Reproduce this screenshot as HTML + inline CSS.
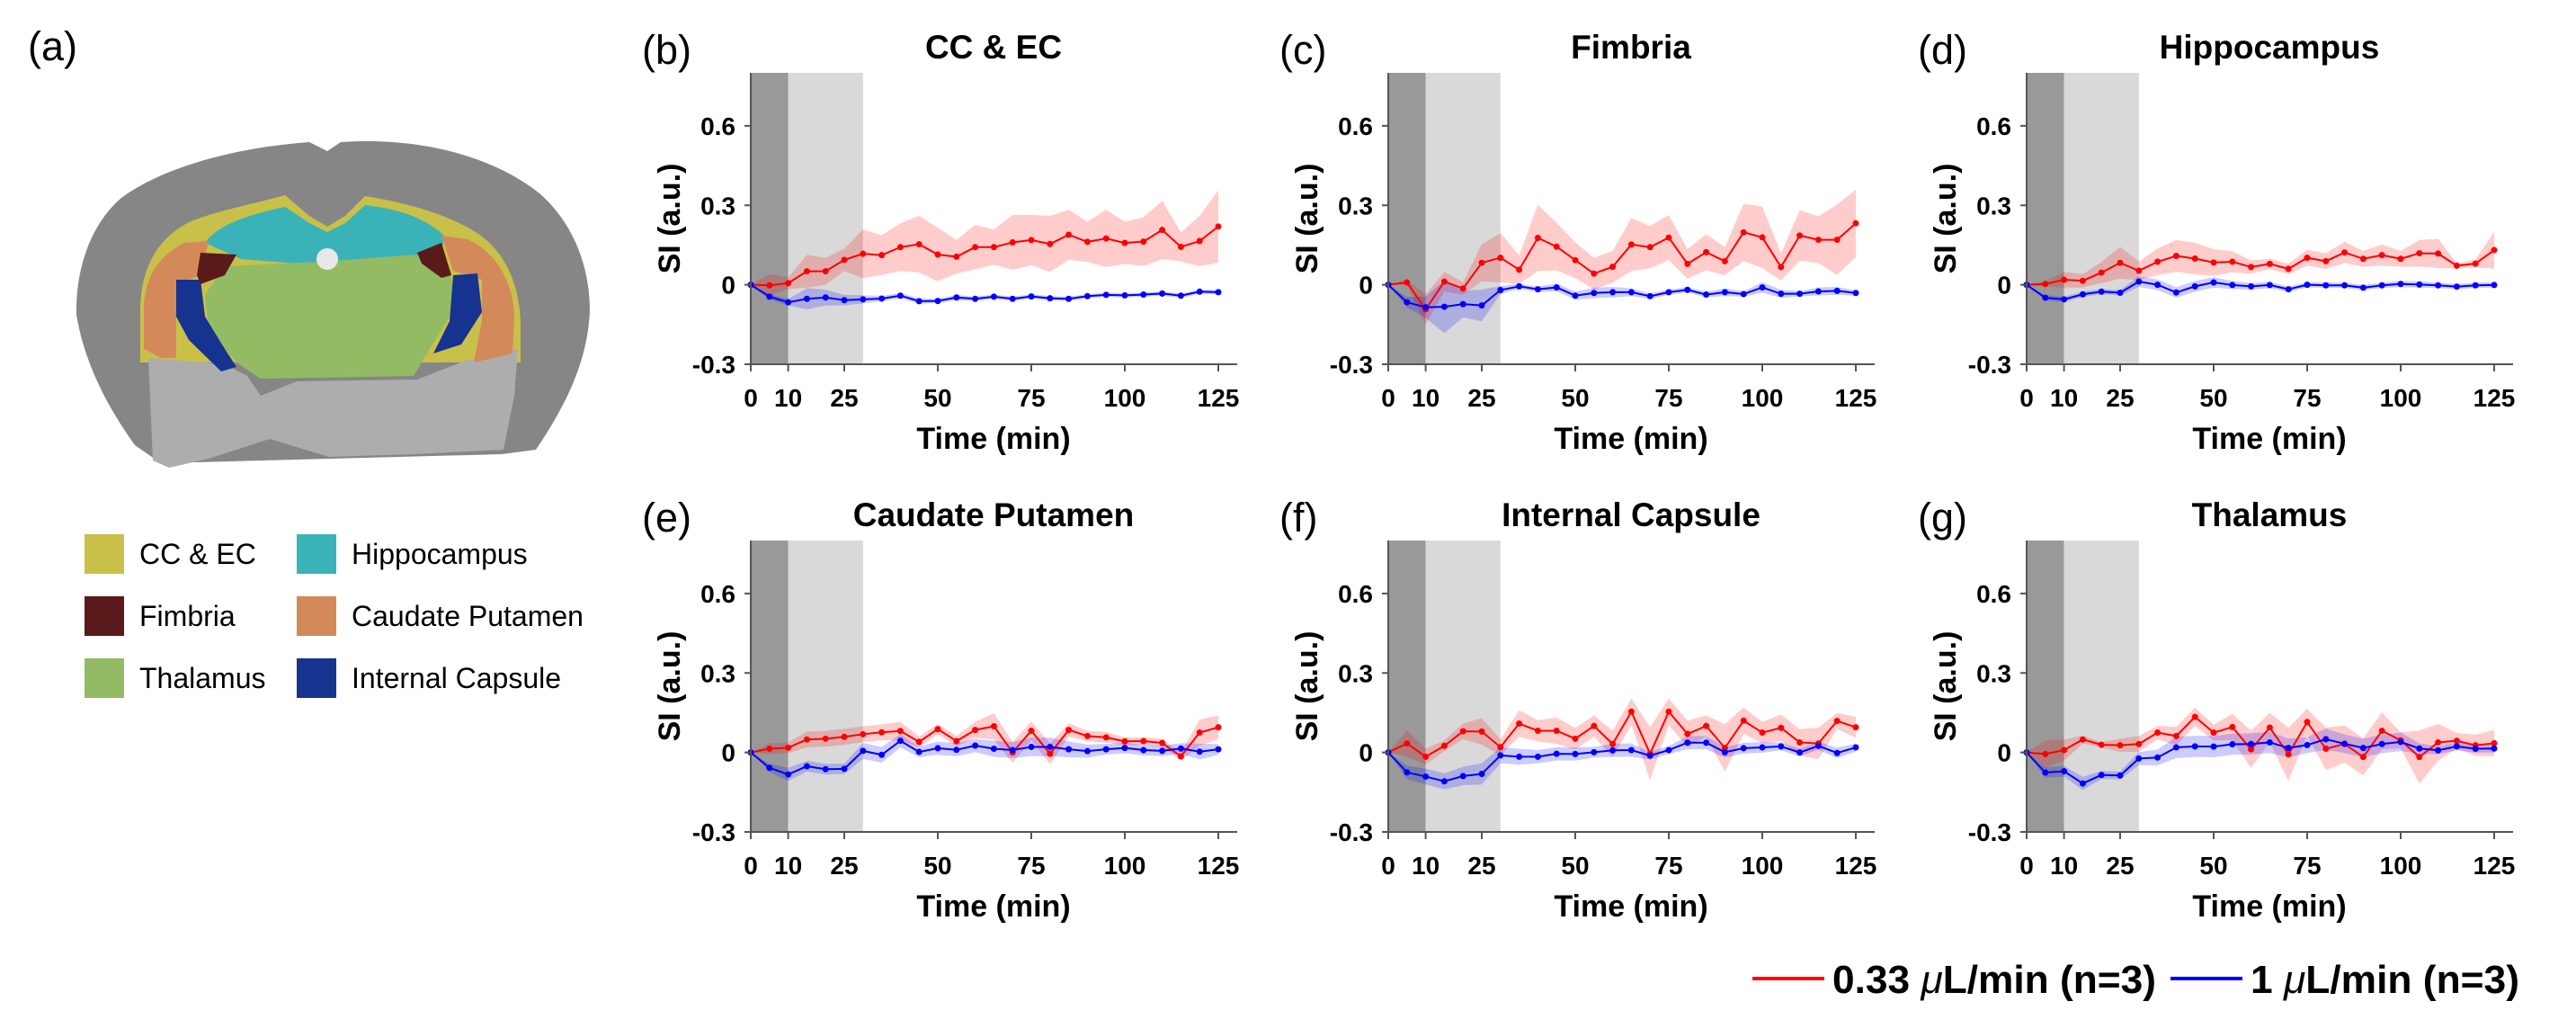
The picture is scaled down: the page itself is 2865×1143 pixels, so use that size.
<!DOCTYPE html>
<html><head><meta charset="utf-8"><style>
html,body{margin:0;padding:0;background:#fff;}
svg{display:block;font-family:"Liberation Sans",Arial,sans-serif;}
</style></head><body>
<svg id="fig" width="2865" height="1143" viewBox="0 0 2865 1143" xmlns="http://www.w3.org/2000/svg">
<g>
<text x="31" y="67" font-size="45">(a)</text>
<path fill="#868686" d="M85,350 C84,300 100,250 135,220 C175,190 250,165 344,158 L364,168 L379,158 C470,152 550,175 600,215 C640,250 656,300 656,345 C654,400 630,450 596,500 L558,505 L179,515 L150,495 C125,460 95,410 85,350 Z"/>
<path fill="#c9c04a" d="M156,345 C156,300 175,262 215,245 C250,232 290,225 317,217 L344,240 L364,252 L384,240 L406,218 C450,225 500,238 535,262 C565,285 578,320 579,360 L579,403 L156,403 Z"/>
<polygon fill="#adadad" points="165,398 250,405 275,418 290,440 330,424 464,422 520,400 576,388 572,440 560,500 460,505 366,508 300,488 232,510 188,520 170,512"/>
<path fill="#3ab3b8" d="M228,270 C240,252 270,240 317,230 L344,248 L364,258 L384,248 L406,228 C440,232 470,240 494,262 L491,286 L464,296 L366,296 L268,288 Z"/>
<path fill="#d4895a" d="M160,345 C160,310 175,285 205,270 L232,268 L223,306 L196,316 L196,398 L179,398 L160,388 Z"/>
<path fill="#d4895a" d="M491,262 L520,266 C550,280 570,310 572,350 L570,393 L527,403 L536,357 L536,311 L504,301 Z"/>
<polygon fill="#93bb63" points="228,327 250,296 357,291 491,281 504,316 500,352 478,388 460,418 290,421 263,403 232,367"/>
<polygon fill="#16338f" points="196,311 223,311 228,352 250,388 263,408 246,413 210,378 196,352"/>
<polygon fill="#16338f" points="504,306 531,304 536,347 513,383 482,393 500,357"/>
<polygon fill="#5a1a1a" points="223,281 263,283 250,306 223,316 219,306"/>
<polygon fill="#5a1a1a" points="464,281 491,270 502,306 491,309 469,293"/>
<circle cx="364" cy="288" r="12" fill="#e8e8e8"/>
</g>
<g font-size="32">
<rect x="94" y="594" width="44" height="44" fill="#c9c04a"/>
<text x="155" y="627">CC &amp; EC</text>
<rect x="94" y="663" width="44" height="44" fill="#5a1a1a"/>
<text x="155" y="696">Fimbria</text>
<rect x="94" y="732" width="44" height="44" fill="#93bb63"/>
<text x="155" y="765">Thalamus</text>
<rect x="330" y="594" width="44" height="44" fill="#3ab3b8"/>
<text x="391" y="627">Hippocampus</text>
<rect x="330" y="663" width="44" height="44" fill="#d4895a"/>
<text x="391" y="696">Caudate Putamen</text>
<rect x="330" y="732" width="44" height="44" fill="#16338f"/>
<text x="391" y="765">Internal Capsule</text>
</g>
<g font-size="44" font-weight="bold">
<line x1="1949" y1="1088" x2="2029" y2="1088" stroke="#f00" stroke-width="4"/>
<text x="2038" y="1104" textLength="360" lengthAdjust="spacingAndGlyphs">0.33 <tspan font-style="italic" font-weight="normal">μ</tspan>L/min (n=3)</text>
<line x1="2414" y1="1088" x2="2494" y2="1088" stroke="#00f" stroke-width="4"/>
<text x="2503" y="1104" textLength="299" lengthAdjust="spacingAndGlyphs">1 <tspan font-style="italic" font-weight="normal">μ</tspan>L/min (n=3)</text>
</g>
</svg>
<script>
const times = [0,5,10,15,20,25,30,35,40,45,50,55,60,65,70,75,80,85,90,95,100,105,110,115,120,125];
const xTicks = [0,10,25,50,75,100,125];
const yTicks = [-0.3,0,0.3,0.6];
const yTickLabels = ["-0.3","0","0.3","0.6"];
const panelTitles = ["CC & EC","Fimbria","Hippocampus","Caudate Putamen","Internal Capsule","Thalamus"];
const panelLetters = ["(b)","(c)","(d)","(e)","(f)","(g)"];

const ccRed = [0,-.002,.006,.051,.051,.094,.117,.112,.142,.153,.114,.106,.142,.142,.160,.169,.154,.189,.162,.175,.158,.163,.207,.143,.165,.220];
const ccRedErr = [0,.042,.022,.062,.051,.042,.092,.075,.09,.107,.101,.064,.084,.067,.104,.095,.106,.094,.076,.108,.08,.092,.11,.055,.095,.137];
const ccBlue = [0,-.045,-.066,-.053,-.048,-.058,-.055,-.052,-.041,-.062,-.061,-.048,-.053,-.045,-.053,-.044,-.051,-.053,-.043,-.038,-.040,-.037,-.033,-.041,-.026,-.028];
const ccBlueErr = [0,.01,.012,.04,.03,.02,.015,.01,.01,.01,.008,.01,.008,.008,.008,.008,.008,.008,.008,.008,.008,.008,.008,.008,.008,.008];

const fiRed = [0,.009,-.093,.012,-.014,.083,.102,.057,.177,.144,.093,.042,.068,.152,.142,.178,.079,.123,.089,.198,.179,.067,.186,.170,.170,.232];
const fiRedErr = [0,.009,.057,.037,.024,.07,.093,.054,.125,.09,.068,.06,.06,.10,.08,.085,.056,.068,.053,.108,.116,.051,.096,.088,.133,.127];
const fiBlue = [0,-.066,-.085,-.083,-.073,-.078,-.020,-.006,-.017,-.010,-.041,-.031,-.028,-.028,-.043,-.028,-.019,-.037,-.028,-.035,-.010,-.034,-.034,-.025,-.023,-.031];
const fiBlueErr = [0,.02,.04,.1,.05,.06,.015,.01,.01,.015,.015,.02,.02,.015,.01,.01,.01,.01,.015,.01,.02,.015,.01,.015,.015,.01];

const hiRed = [0,.003,.019,.015,.046,.083,.053,.087,.109,.099,.084,.087,.067,.079,.060,.102,.089,.122,.098,.112,.098,.119,.118,.072,.080,.131];
const hiRedErr = [0,.01,.03,.025,.04,.06,.035,.05,.06,.06,.05,.04,.025,.02,.02,.03,.03,.04,.03,.04,.03,.05,.055,.01,.015,.07];
const hiBlue = [0,-.049,-.055,-.036,-.026,-.03,.012,0,-.029,-.006,.009,-.001,-.006,-.001,-.017,0,-.002,-.002,-.011,-.002,.003,.001,-.002,-.007,-.002,-.001];
const hiBlueErr = [0,.01,.01,.01,.01,.01,.02,.02,.02,.02,.02,.015,.012,.012,.01,.01,.01,.01,.01,.01,.012,.012,.01,.01,.01,.01];

const cpRed = [0,.014,.018,.049,.052,.059,.069,.076,.081,.040,.088,.043,.085,.099,0,.082,-.005,.085,.062,.057,.042,.043,.036,-.015,.075,.095];
const cpRedErr = [0,.02,.02,.03,.03,.03,.03,.03,.035,.02,.02,.02,.03,.05,.04,.035,.04,.025,.02,.02,.015,.015,.015,.015,.05,.045];
const cpBlue = [0,-.058,-.083,-.052,-.063,-.062,.006,-.009,.044,.002,.016,.010,.026,.014,.009,.021,.021,.012,.005,.012,.017,.009,.006,.015,.003,.012];
const cpBlueErr = [0,.015,.025,.02,.02,.02,.03,.03,.025,.02,.025,.025,.025,.03,.03,.035,.035,.03,.025,.02,.02,.02,.02,.02,.03,.02];

const icRed = [0,.034,-.016,.025,.080,.079,.020,.109,.082,.082,.052,.100,.032,.154,-.005,.154,.070,.100,.017,.120,.075,.093,.038,.034,.119,.095];
const icRedErr = [0,.05,.03,.02,.03,.05,.03,.05,.04,.05,.04,.04,.05,.05,.1,.05,.05,.04,.09,.05,.04,.05,.05,.06,.03,.04];
const icBlue = [0,-.075,-.091,-.109,-.089,-.081,-.011,-.016,-.016,-.005,-.006,.001,.008,.009,-.012,.009,.037,.037,.001,.016,.019,.023,0,.025,-.002,.019];
const icBlueErr = [0,.025,.03,.03,.035,.04,.03,.03,.025,.025,.025,.02,.025,.025,.015,.015,.025,.025,.02,.02,.02,.015,.015,.015,.02,.015];

const thRed = [0,-.006,.009,.049,.029,.027,.032,.075,.062,.134,.075,.096,.012,.094,-.007,.115,.014,.032,-.017,.082,.046,-.017,.038,.044,.027,.035];
const thRedErr = [0,.05,.04,.015,.01,.025,.03,.025,.035,.035,.03,.05,.07,.055,.1,.05,.08,.07,.07,.07,.03,.1,.07,.03,.04,.05];
const thBlue = [0,-.076,-.071,-.117,-.085,-.087,-.023,-.019,.019,.023,.022,.031,.032,.038,.017,.028,.050,.033,.017,.032,.040,.015,.008,.023,.014,.015];
const thBlueErr = [0,.02,.02,.025,.015,.015,.025,.03,.04,.04,.04,.04,.04,.04,.035,.03,.04,.035,.035,.035,.035,.02,.015,.015,.015,.015];

const redSeries = [ccRed,fiRed,hiRed,cpRed,icRed,thRed];
const redErrs = [ccRedErr,fiRedErr,hiRedErr,cpRedErr,icRedErr,thRedErr];
const blueSeries = [ccBlue,fiBlue,hiBlue,cpBlue,icBlue,thBlue];
const blueErrs = [ccBlueErr,fiBlueErr,hiBlueErr,cpBlueErr,icBlueErr,thBlueErr];

const NS = "http://www.w3.org/2000/svg";
const svg = document.getElementById('fig');
function mk(tag, attrs, parent){
  const e = document.createElementNS(NS, tag);
  for (const k in attrs) e.setAttribute(k, attrs[k]);
  parent.appendChild(e);
  return e;
}
const slug = s => s.toLowerCase().replace(/[^a-z0-9]+/g,'-').replace(/^-|-$/g,'');
const origins = [[835,0],[1544,0],[2254,0],[835,520],[1544,520],[2254,520]];
const PX_PER_MIN = 520/125, Y_TOP = 81, Y_BOT = 405, Y_MIN = -0.3, Y_MAX = 0.8;

for (let p = 0; p < 6; p++) {
  const [x0, dy] = origins[p];
  const xs = t => x0 + t * PX_PER_MIN;
  const ys = v => dy + Y_BOT - (v - Y_MIN) / (Y_MAX - Y_MIN) * (Y_BOT - Y_TOP);
  const name = slug(panelTitles[p]);
  const g = mk('g', {}, svg);
  
  

  const lab = mk('text', {x: x0 - 121, y: dy + 71, 'font-size': 45}, g);
  lab.textContent = panelLetters[p];
  
  

  const ttl = mk('text', {x: x0 + 270, y: dy + 65, 'font-size': 37, 'font-weight': 'bold', 'text-anchor': 'middle'}, g);
  ttl.textContent = panelTitles[p];
  
  

  const s1 = mk('rect', {x: xs(0), y: dy + Y_TOP, width: xs(10) - xs(0), height: Y_BOT - Y_TOP, fill: '#999999'}, g);
  
  
  const s2 = mk('rect', {x: xs(10), y: dy + Y_TOP, width: xs(30) - xs(10), height: Y_BOT - Y_TOP, fill: '#d9d9d9'}, g);
  
  

  const series = [[redSeries[p], redErrs[p], '#ff0000', 'red'], [blueSeries[p], blueErrs[p], '#0000ff', 'blue']];
  for (const [vals, errs, col, cname] of series) {
    let up = times.map((t, i) => xs(t) + ',' + ys(vals[i] + errs[i]));
    let lo = times.map((t, i) => xs(t) + ',' + ys(vals[i] - errs[i])).reverse();
    const band = mk('polygon', {points: up.concat(lo).join(' '), fill: col, 'fill-opacity': 0.2}, g);
    
    
  }
  for (const [vals, errs, col, cname] of series) {
    const line = mk('polyline', {points: times.map((t, i) => xs(t) + ',' + ys(vals[i])).join(' '), fill: 'none', stroke: col, 'stroke-width': 2}, g);
    
    
    times.forEach((t, i) => {
      const c = mk('circle', {cx: xs(t), cy: ys(vals[i]), r: 3.5, fill: col}, g);
      
      
    });
  }

  const ax = mk('path', {d: `M${x0},${dy + Y_TOP} V${dy + Y_BOT} H${x0 + 541}`, fill: 'none', stroke: '#555', 'stroke-width': 2}, g);
  
  
  xTicks.forEach(t => {
    const tk = mk('line', {x1: xs(t), x2: xs(t), y1: dy + Y_BOT, y2: dy + Y_BOT + 8, stroke: '#555', 'stroke-width': 2}, g);
    
    
    const tl = mk('text', {x: xs(t), y: dy + 452, 'font-size': 28, 'font-weight': 'bold', 'text-anchor': 'middle'}, g);
    tl.textContent = String(t);
    
    
  });
  yTicks.forEach((v, i) => {
    const tk = mk('line', {x1: x0 - 7, x2: x0, y1: ys(v), y2: ys(v), stroke: '#555', 'stroke-width': 2}, g);
    
    
    const tl = mk('text', {x: x0 - 17, y: ys(v) + 10, 'font-size': 28, 'font-weight': 'bold', 'text-anchor': 'end'}, g);
    tl.textContent = yTickLabels[i];
    
    
  });
  const xl = mk('text', {x: x0 + 270, y: dy + 499, 'font-size': 34, 'font-weight': 'bold', 'text-anchor': 'middle'}, g);
  xl.textContent = 'Time (min)';
  
  
  const yl = mk('text', {x: 0, y: 0, 'font-size': 34, 'font-weight': 'bold', 'text-anchor': 'middle', transform: `translate(${x0 - 79},${dy + 243}) rotate(-90)`}, g);
  yl.textContent = 'SI (a.u.)';
  
  
}
</script>
</body></html>
